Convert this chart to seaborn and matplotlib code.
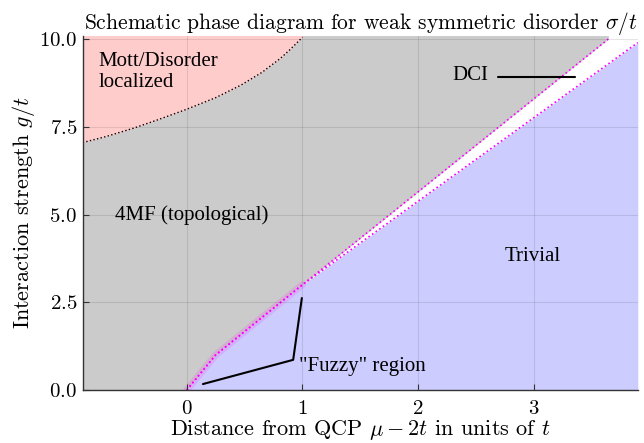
import matplotlib
matplotlib.use("Agg")
import matplotlib.pyplot as plt
from matplotlib import font_manager
import seaborn as sns

# --- Data ---
# boundary of the trivial phase (lower edge of the DCI sliver)
lower_x = [0.0, 0.25, 1.0, 3.9]
lower_y = [0.0, 1.0, 3.0, 9.9]
# boundary of the topological 4MF phase (upper edge of the DCI sliver)
upper_x = [0.0, 0.25, 1.0, 3.645]
upper_y = [0.0, 1.0, 3.0, 10.0]
# Mott / disorder localized boundary
mott_x = [-0.9, -0.7, -0.46, -0.25, 0.0, 0.25, 0.47, 0.65, 0.81, 0.9, 1.0]
mott_y = [7.05, 7.22, 7.46, 7.7, 8.0, 8.33, 8.69, 9.05, 9.45, 9.72, 10.05]
# "fuzzy" stretch of the transition line
fuzzy_x = [0.0, 0.25, 1.0]
fuzzy_y = [0.0, 1.0, 3.0]
# annotation pointers
fuzzy_ptr_x = [0.14, 0.92, 0.995]
fuzzy_ptr_y = [0.17, 0.86, 2.62]
dci_ptr_x = [2.69, 3.36]
dci_ptr_y = [8.93, 8.93]

x_ticks = [0, 1, 2, 3]
y_ticks = [0.0, 2.5, 5.0, 7.5, 10.0]
x_min, x_max = -0.9, 3.9
y_min, y_max = 0.0, 10.1

# --- Style ---
sns.set_theme(style="white")
plt.rcParams["font.family"] = ["cmr10", "DejaVu Serif"]
plt.rcParams["mathtext.fontset"] = "cm"
plt.rcParams["axes.formatter.use_mathtext"] = True
plt.rcParams["axes.unicode_minus"] = False
for key in ["text.color", "axes.labelcolor", "xtick.labelcolor", "ytick.labelcolor"]:
    plt.rcParams[key] = "black"

# Times-like face for the region labels
times_file = None
for f in font_manager.fontManager.ttflist:
    if f.name == "Liberation Serif" and f.style == "normal" and f.weight in (400, "normal", "regular"):
        times_file = f.fname
        break
if times_file:
    times = font_manager.FontProperties(fname=times_file, size=15)
else:
    times = font_manager.FontProperties(family="serif", size=15)

fig = plt.figure(figsize=(6.44, 4.43), dpi=100)
ax = fig.add_axes([0.1284, 0.1196, 0.862, 0.8002])

grey = "#cbcbcb"
pink = "#ffcccc"
blue = "#ccccff"

# --- Regions ---
ax.fill_betweenx(upper_y + [y_max], x_min, upper_x + [upper_x[-1]],
                 color=grey, lw=0, zorder=0.5)
ax.fill_between(mott_x, mott_y, y_max, color=pink, lw=0, zorder=0.6)
ax.fill_between(lower_x, 0, lower_y, color=blue, lw=0, zorder=0.6)

# --- Boundaries ---
sns.lineplot(x=fuzzy_x, y=fuzzy_y, sort=False, estimator=None, ax=ax,
             color="magenta", lw=5, alpha=0.14)
sns.lineplot(x=upper_x, y=upper_y, sort=False, estimator=None, ax=ax,
             color="magenta", lw=1.2, linestyle=":")
sns.lineplot(x=lower_x, y=lower_y, sort=False, estimator=None, ax=ax,
             color="magenta", lw=1.2, linestyle=":")
sns.lineplot(x=mott_x, y=mott_y, sort=False, estimator=None, ax=ax,
             color="black", lw=1.0, linestyle=":")

# pointers
sns.lineplot(x=fuzzy_ptr_x, y=fuzzy_ptr_y, sort=False, estimator=None, ax=ax,
             color="black", lw=1.5)
sns.lineplot(x=dci_ptr_x, y=dci_ptr_y, sort=False, estimator=None, ax=ax,
             color="black", lw=1.5)

# --- Labels in the plot ---
ax.text(-0.765, 9.06, "Mott/Disorder\nlocalized", ha="left", va="center",
        linespacing=1.12, fontproperties=times, color="black")
ax.text(-0.62, 4.99, "4MF (topological)", ha="left", va="center",
        fontproperties=times, color="black")
ax.text(2.61, 8.95, "DCI", ha="right", va="center", fontproperties=times,
        color="black")
ax.text(2.99, 3.79, "Trivial", ha="center", va="center", fontproperties=times,
        color="black")
ax.text(0.97, 0.66, '"Fuzzy" region', ha="left", va="center",
        fontproperties=times, color="black")

# --- Axes ---
ax.set_xlim(x_min, x_max)
ax.set_ylim(y_min, y_max)
ax.set_xticks(x_ticks)
ax.set_yticks(y_ticks)
ax.grid(True, color="black", alpha=0.1, lw=0.8)
ax.set_axisbelow(False)
for s in ["top", "right"]:
    ax.spines[s].set_visible(False)
for s in ["left", "bottom"]:
    ax.spines[s].set_color("#333333")
    ax.spines[s].set_linewidth(1.0)
ax.tick_params(axis="both", direction="in", length=4, width=0.8,
               color="#333333", labelcolor="black", labelsize=15,
               left=True, bottom=True)
ax.tick_params(axis="x", pad=7)
ax.tick_params(axis="y", pad=4)

ax.set_title(r"Schematic phase diagram for weak symmetric disorder $\sigma/t$",
             fontsize=15.5, pad=5, color="black")
ax.set_xlabel(r"Distance from QCP $\mu-2t$ in units of $t$", fontsize=16)
ax.set_ylabel(r"Interaction strength $g/t$", fontsize=16)
ax.xaxis.set_label_coords(0.5, -0.08)
ax.yaxis.set_label_coords(-0.083, 0.5)

fig.savefig("out.png", dpi=100)
